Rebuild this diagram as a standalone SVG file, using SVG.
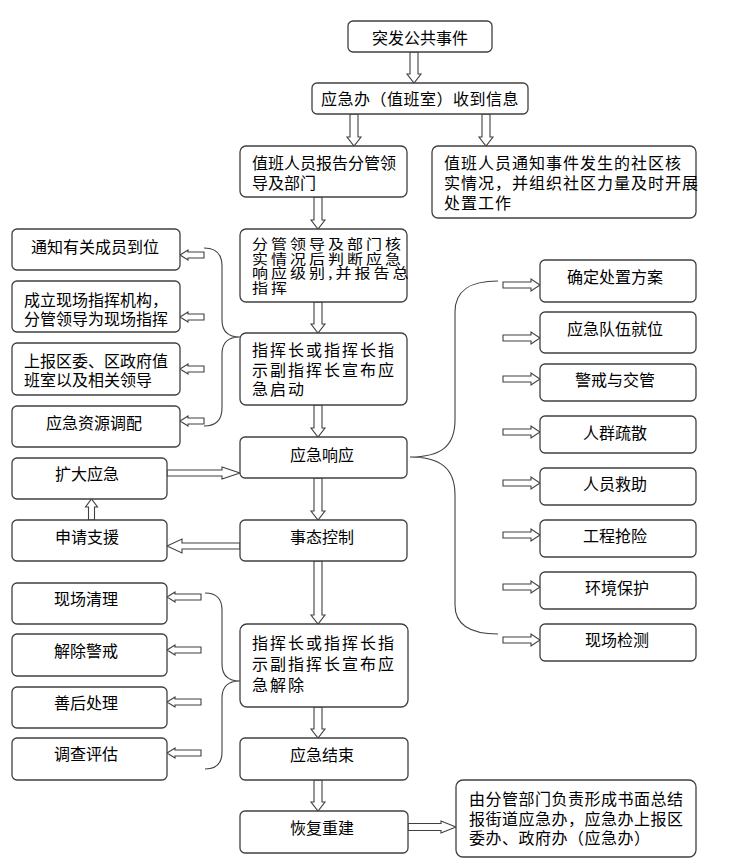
<svg xmlns="http://www.w3.org/2000/svg" width="732" height="859" viewBox="0 0 732 859">
<style>
.box{fill:#fff;stroke:#404040;stroke-width:1.3}
.t{font-family:"Noto Sans CJK SC","Liberation Sans",sans-serif;font-size:16px;fill:#000}
.c{text-anchor:middle}
.ar{fill:#fff;stroke:#404040;stroke-width:1.1}
.br{fill:none;stroke:#404040;stroke-width:1.1}
</style>
<rect width="732" height="859" fill="#fff"/>
<g id="connectors">
<polygon class="ar" points="410,52 418,52 418,74 421,74 414,83 407,74 410,74"/>
<polygon class="ar" points="350,114 358,114 358,137 361,137 354,146 347,137 350,137"/>
<polygon class="ar" points="482,114 490,114 490,137 493,137 486,146 479,137 482,137"/>
<polygon class="ar" points="314,197 322,197 322,220 325,220 318,229 311,220 314,220"/>
<polygon class="ar" points="314,302 322,302 322,324 325,324 318,333 311,324 314,324"/>
<polygon class="ar" points="314,405 322,405 322,428 325,428 318,437 311,428 314,428"/>
<polygon class="ar" points="314,478 322,478 322,511 325,511 318,520 311,511 314,511"/>
<polygon class="ar" points="314,561 322,561 322,615 325,615 318,624 311,615 314,615"/>
<polygon class="ar" points="314,707 322,707 322,729 325,729 318,738 311,729 314,729"/>
<polygon class="ar" points="314,780 322,780 322,802 325,802 318,811 311,802 314,802"/>
<polygon class="ar" points="167,470 222,470 222,467 240,473 222,479 222,476 167,476"/>
<polygon class="ar" points="240,543 182,543 182,539 167,546 182,553 182,549 240,549"/>
<polygon class="ar" points="408,823.5 441,823.5 441,821 456,827 441,833 441,830.5 408,830.5"/>
<polygon class="ar" points="88.5,520 94.5,520 94.5,507 97.5,507 91.5,499 85.5,507 88.5,507"/>
<polygon class="ar" points="204,252 188,252 188,250 180,255 188,260 188,258 204,258"/>
<polygon class="ar" points="204,314 188,314 188,312 180,317 188,322 188,320 204,320"/>
<polygon class="ar" points="204,366 188,366 188,364 180,369 188,374 188,372 204,372"/>
<polygon class="ar" points="204,418 188,418 188,416 180,421 188,426 188,424 204,424"/>
<polygon class="ar" points="201,594 175,594 175,592 167,597 175,602 175,600 201,600"/>
<polygon class="ar" points="201,647 175,647 175,645 167,650 175,655 175,653 201,653"/>
<polygon class="ar" points="201,699 175,699 175,697 167,702 175,707 175,705 201,705"/>
<polygon class="ar" points="201,750 175,750 175,748 167,753 175,758 175,756 201,756"/>
<polygon class="ar" points="503,282 531,282 531,279 540,285 531,291 531,288 503,288"/>
<polygon class="ar" points="503,335 531,335 531,332 540,338 531,344 531,341 503,341"/>
<polygon class="ar" points="503,376 531,376 531,373 540,379 531,385 531,382 503,382"/>
<polygon class="ar" points="503,429 531,429 531,426 540,432 531,438 531,435 503,435"/>
<polygon class="ar" points="503,480 531,480 531,477 540,483 531,489 531,486 503,486"/>
<polygon class="ar" points="503,532 531,532 531,529 540,535 531,541 531,538 503,538"/>
<polygon class="ar" points="503,584 531,584 531,581 540,587 531,593 531,590 503,590"/>
<polygon class="ar" points="503,637 531,637 531,634 540,640 531,646 531,643 503,643"/>
<path class="br" d="M204,248 Q222,248 222,266 L222,320 Q222,337 240,337 Q222,337 222,354 L222,408 Q222,426 204,426"/>
<path class="br" d="M410,457 C440,457 455,447 455,420 L455,312 C455,290 470,281 498,281 M410,457 C440,457 455,468 455,495 L455,605 C455,625 470,634 498,634"/>
<path class="br" d="M205,593 Q222,593 222,610 L222,664 Q222,681 240,681 Q222,681 222,698 L222,752 Q222,769 205,769"/>
</g>
<g id="n1"><rect class="box" x="348" y="21" width="144" height="31" rx="5"/><text class="t c" x="420" y="44">突发公共事件</text></g>
<g id="n2"><rect class="box" x="312" y="83" width="216" height="31" rx="5"/><text class="t c" x="420" y="105" letter-spacing="0.5">应急办（值班室）收到信息</text></g>
<g id="n3"><rect class="box" x="240" y="146" width="167" height="51" rx="6"/><text class="t"><tspan x="252" y="169">值班人员报告分管领</tspan><tspan x="252" y="189">导及部门</tspan></text></g>
<g id="n3b"><rect class="box" x="432" y="146" width="264" height="72" rx="6"/><text class="t" letter-spacing="1"><tspan x="444" y="169">值班人员通知事件发生的社区核</tspan><tspan x="444" y="189">实情况，并组织社区力量及时开展</tspan><tspan x="444" y="209">处置工作</tspan></text></g>
<g id="n4"><rect class="box" x="240" y="229" width="167" height="73" rx="6"/><text class="t" transform="translate(252,0) scale(1,0.82)" font-size="15" letter-spacing="3"><tspan x="0" y="303.7">分管领导及部门核</tspan><tspan x="0" y="322">实情况后判断应急</tspan><tspan x="0" y="339.6">响应级别,并报告总</tspan><tspan x="0" y="357.3">指挥</tspan></text></g>
<g id="n5"><rect class="box" x="240" y="333" width="167" height="72" rx="6"/><text class="t" letter-spacing="2"><tspan x="252" y="356">指挥长或指挥长指</tspan><tspan x="252" y="376">示副指挥长宣布应</tspan><tspan x="252" y="395">急启动</tspan></text></g>
<g id="l1"><rect class="box" x="12" y="229" width="168" height="41" rx="5"/><text class="t c" x="95" y="253">通知有关成员到位</text></g>
<g id="l2"><rect class="box" x="12" y="281" width="168" height="51" rx="5"/><text class="t"><tspan x="24" y="306">成立现场指挥机构，</tspan><tspan x="24" y="325">分管领导为现场指挥</tspan></text></g>
<g id="l3"><rect class="box" x="12" y="343" width="168" height="52" rx="5"/><text class="t"><tspan x="24" y="367">上报区委、区政府值</tspan><tspan x="24" y="386">班室以及相关领导</tspan></text></g>
<g id="l4"><rect class="box" x="12" y="406" width="168" height="41" rx="5"/><text class="t c" x="94" y="429">应急资源调配</text></g>
<g id="n6"><rect class="box" x="240" y="437" width="167" height="41" rx="5"/><text class="t c" x="322" y="461">应急响应</text></g>
<g id="e1"><rect class="box" x="12" y="458" width="155" height="41" rx="5"/><text class="t c" x="87" y="480">扩大应急</text></g>
<g id="e2"><rect class="box" x="12" y="520" width="155" height="41" rx="5"/><text class="t c" x="87" y="543">申请支援</text></g>
<g id="n7"><rect class="box" x="240" y="520" width="167" height="41" rx="5"/><text class="t c" x="322" y="543">事态控制</text></g>
<g id="r1"><rect class="box" x="540" y="260" width="156" height="42" rx="5"/><text class="t c" x="615" y="283">确定处置方案</text></g>
<g id="r2"><rect class="box" x="540" y="312" width="156" height="41" rx="5"/><text class="t c" x="615" y="335">应急队伍就位</text></g>
<g id="r3"><rect class="box" x="540" y="364" width="156" height="37" rx="5"/><text class="t c" x="615" y="386">警戒与交管</text></g>
<g id="r4"><rect class="box" x="540" y="416" width="156" height="37" rx="5"/><text class="t c" x="615" y="439">人群疏散</text></g>
<g id="r5"><rect class="box" x="540" y="468" width="156" height="37" rx="5"/><text class="t c" x="615" y="490">人员救助</text></g>
<g id="r6"><rect class="box" x="540" y="520" width="156" height="37" rx="5"/><text class="t c" x="615" y="542">工程抢险</text></g>
<g id="r7"><rect class="box" x="540" y="572" width="156" height="37" rx="5"/><text class="t c" x="617" y="594">环境保护</text></g>
<g id="r8"><rect class="box" x="540" y="624" width="156" height="37" rx="5"/><text class="t c" x="617" y="646">现场检测</text></g>
<g id="b1"><rect class="box" x="12" y="583" width="155" height="41" rx="5"/><text class="t c" x="86" y="605">现场清理</text></g>
<g id="b2"><rect class="box" x="12" y="634" width="155" height="42" rx="5"/><text class="t c" x="86" y="657">解除警戒</text></g>
<g id="b3"><rect class="box" x="12" y="687" width="155" height="41" rx="5"/><text class="t c" x="86" y="709">善后处理</text></g>
<g id="b4"><rect class="box" x="12" y="738" width="155" height="42" rx="5"/><text class="t c" x="86" y="760">调查评估</text></g>
<g id="n8"><rect class="box" x="240" y="624" width="168" height="83" rx="7"/><text class="t" letter-spacing="2"><tspan x="252" y="649">指挥长或指挥长指</tspan><tspan x="252" y="670">示副指挥长宣布应</tspan><tspan x="252" y="691">急解除</tspan></text></g>
<g id="n9"><rect class="box" x="240" y="738" width="168" height="42" rx="5"/><text class="t c" x="322" y="761">应急结束</text></g>
<g id="n10"><rect class="box" x="240" y="811" width="168" height="42" rx="5"/><text class="t c" x="322" y="834">恢复重建</text></g>
<g id="n11"><rect class="box" x="456" y="780" width="240" height="77" rx="7"/><text class="t" letter-spacing="0.5"><tspan x="469" y="805">由分管部门负责形成书面总结</tspan><tspan x="469" y="825">报街道应急办，应急办上报区</tspan><tspan x="469" y="844">委办、政府办（应急办）</tspan></text></g>
</svg>
